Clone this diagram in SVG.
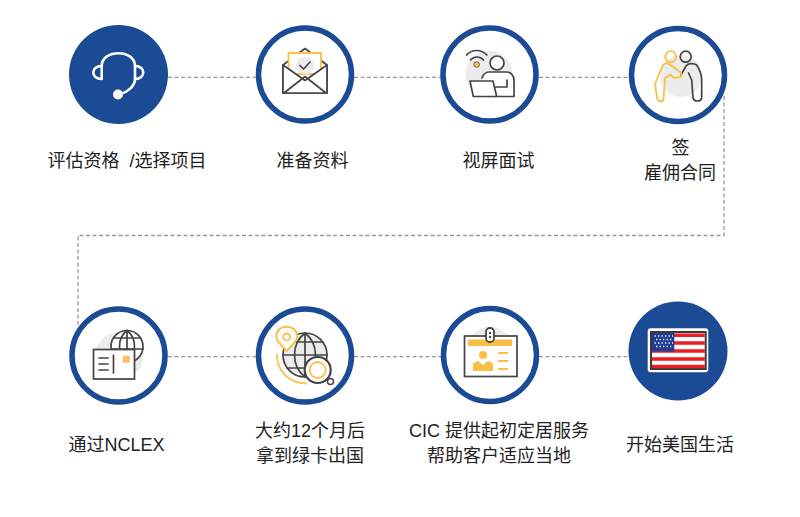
<svg xmlns="http://www.w3.org/2000/svg" width="800" height="517" viewBox="0 0 800 517">
<style>
.ring{fill:#fff;stroke:#1b4b94;stroke-width:5.5}
.disc{fill:#1b4b94}
.t{font-family:"Liberation Sans","Noto Sans CJK SC",sans-serif;font-size:18px;fill:#222;text-anchor:middle}
.k{fill:none;stroke:#444;stroke-width:1.7;stroke-linejoin:round;stroke-linecap:round}
.y{fill:none;stroke:#fbbf45;stroke-width:1.8;stroke-linejoin:round;stroke-linecap:round}
.yf{fill:#fbbf45}
.g{fill:#ececec}
.w{fill:none;stroke:#fff;stroke-width:2.6;stroke-linecap:round;stroke-linejoin:round}
.c{fill:none;stroke:#999;stroke-width:1.3;stroke-dasharray:4 2.5}
</style>
<rect width="800" height="517" fill="#fff"/>
<g id="connectors">
<path class="c" d="M168 77.300H256"/>
<path class="c" d="M354 77.300H441"/>
<path class="c" d="M539 77.300H630"/>
<path class="c" d="M724 96V235.500H78V325"/>
<path class="c" d="M168 356.700H256"/>
<path class="c" d="M354 356.700H441"/>
<path class="c" d="M539 356.700H630"/>
</g>
<g id="n1">
<circle class="disc" cx="118.500" cy="74.500" r="49.500"/>
<path class="w" d="M101.700 66C101.700 49 135 49 135 66V79C135 86 128 92 120 94"/>
<path class="w" d="M101.700 66C90.500 66 90.500 79 101.700 79ZM135 66C146 66 146 79 135 79"/>
<circle cx="118" cy="94.500" r="5" fill="#fff"/>
<text class="t" x="127" y="166.500" word-spacing="5">评估资格 /选择项目</text>
</g>
<g id="n2">
<circle class="ring" cx="305" cy="74.500" r="46.500"/>
<path class="k" d="M283 65V93H327V65L305 48.500Z"/>
<path d="M288.500 74V53H321V74Z" fill="#fff" stroke="#fbbf45" stroke-width="1.800"/>
<circle class="g" cx="305" cy="65.500" r="9"/>
<path class="k" d="M300 65.500L303.500 69L310 62"/>
<path d="M283 65L305 80.500L327 65V93H283Z" fill="#fff"/>
<path class="k" d="M283 65V93H327V65L305 80.500ZM284 93L305 76.500L326 93"/>
<text class="t" x="312.500" y="166.500">准备资料</text>
</g>
<g id="n3">
<circle class="ring" cx="489.500" cy="74.500" r="46.500"/>
<circle class="g" cx="489" cy="74" r="23.500"/>
<path class="k" d="M466.500 55C472 49 481 49 487 55M470.500 60C474 56 480 56 483.500 60"/>
<circle cx="476.700" cy="64.500" r="2.800" fill="#fbbf45" stroke="#444" stroke-width="0.800"/>
<circle cx="497" cy="63" r="7" fill="#fff" stroke="#444" stroke-width="1.700"/>
<path d="M482 78C483 75 485 72 489 72H507C511 72 514 76 514 80V96.500H495Z" fill="#fff"/>
<path class="k" d="M482 78C483 75 485 72 489 72H507C511 72 514 76 514 80V96.500H495M494 87H507V80"/>
<path d="M470 81H493L496.700 96.500H473.300Z" fill="#fff" stroke="#444" stroke-width="1.700" stroke-linejoin="round"/>
<text class="t" x="498.500" y="166.500">视屏面试</text>
</g>
<g id="n4">
<circle class="ring" cx="678" cy="75" r="46.500"/>
<circle class="g" cx="681" cy="76" r="21"/>
<circle class="y" cx="670.700" cy="56.700" r="5.500"/>
<circle class="k" cx="685.700" cy="56.700" r="5.500"/>
<path class="k" d="M681 75L686 66C688 63 694 63 696.700 65C700 70 701.700 74 701.700 80V98C701 102 694 102 693 98L691.700 80L688.500 73"/>
<path class="y" d="M680 72L670 64.500C667 62.500 664 63 662.500 66L655 84L657.300 99C658.500 102 663 102 663.500 99L665 78L671 74.500L673 77.500H679C682 77.500 682 72 680 72Z"/>
<text class="t" x="680.500" y="154">签</text>
<text class="t" x="680" y="179">雇佣合同</text>
</g>
<g id="n5">
<circle class="ring" cx="118.500" cy="355.500" r="46.500"/>
<circle class="g" cx="119" cy="356" r="24"/>
<circle class="k" cx="127" cy="346.500" r="16" style="fill:#fff"/>
<path class="k" d="M114 338H140M111.500 349H143M127 331V362.500M127 330.500C117 338 117 355 127 362.500M127 330.500C137 338 137 355 127 362.500"/>
<rect x="93.500" y="349.500" width="41" height="29.500" fill="#fff" stroke="#444" stroke-width="1.700"/>
<path class="k" d="M99 358H108M99 364H108M99 370H108M113.500 355V373"/>
<rect x="122.700" y="355.700" width="7" height="7" fill="#fbbf65"/>
<text class="t" x="116.500" y="451">通过NCLEX</text>
</g>
<g id="n6">
<circle class="ring" cx="305" cy="355.500" r="46.500"/>
<circle class="g" cx="305" cy="355" r="22"/>
<path class="k" d="M288 342H322M283 355H327M287 368H323M305 333V377M305 333C291 344 291 366 305 377M305 333C319 344 319 366 305 377" stroke-width="2.100"/>
<circle class="k" cx="305" cy="355" r="22" stroke-width="2.200"/>
<circle cx="317.700" cy="370" r="13" fill="#fff" stroke="#444" stroke-width="2.200"/>
<circle class="y" cx="317.700" cy="370" r="8" stroke-width="2.200"/>
<path d="M327 379L330 381" stroke="#444" stroke-width="2" stroke-linecap="round"/>
<circle cx="330.500" cy="381.500" r="3" fill="#fff" stroke="#444" stroke-width="1.500"/>
<path d="M286.700 351L278.500 342C273.500 335 278 326.700 286.700 326.700C295.500 326.700 300 335 295 342Z" fill="#fff" stroke="#fbbf45" stroke-width="2" stroke-linejoin="round"/>
<circle class="y" cx="286.700" cy="337" r="3.500"/>
<path class="y" d="M277 355C277 371 289 383 306 383.500" stroke-width="2"/>
<text class="t" x="310" y="437">大约12个月后</text>
<text class="t" x="310" y="462">拿到绿卡出国</text>
</g>
<g id="n7">
<circle class="ring" cx="490" cy="355" r="46.500"/>
<circle class="g" cx="490" cy="352" r="25"/>
<rect x="464.500" y="336" width="52.500" height="40.500" fill="#fff" stroke="#444" stroke-width="1.700"/>
<rect class="yf" x="468" y="339.500" width="44" height="6.500"/>
<rect x="486" y="328" width="8" height="14" rx="3.800" fill="#fff" stroke="#444" stroke-width="1.800"/>
<circle cx="490" cy="333" r="1.200" fill="#444"/><circle cx="490" cy="337" r="1.200" fill="#444"/>
<circle class="yf" cx="483" cy="355" r="4"/>
<path class="yf" d="M473 371V365C473 363 475 362 478 361L483 365L488 361C491 362 493 363 493 365V371Z"/>
<path d="M498 353H508M498 361H508M498 369H508" stroke="#fbbf45" stroke-width="1.800"/>
<text class="t" x="499" y="437">CIC 提供起初定居服务</text>
<text class="t" x="499" y="462">帮助客户适应当地</text>
</g>
<g id="n8">
<circle class="disc" cx="678" cy="351" r="49.500"/>
<rect x="647.700" y="328.300" width="60.600" height="44" rx="3" fill="#fff"/>
<rect x="650" y="331" width="56.700" height="39" fill="#3a3a3a"/>
<rect x="652" y="333" width="52.700" height="35" fill="#fff"/>
<path d="M652 335.200H704.700M652 343H704.700M652 351H704.700M652 359H704.700M652 366.500H704.700" stroke="#ee1c25" stroke-width="3.400"/>
<rect x="652" y="333" width="22.300" height="18.500" fill="#1e3c94"/>
<path d="M654.500 336H673M656 339.500H672M654.500 343H673M656 346.500H672" stroke="#fff" stroke-width="1.300" stroke-dasharray="1.300 2.200"/>
<text class="t" x="680" y="451">开始美国生活</text>
</g>
</svg>
